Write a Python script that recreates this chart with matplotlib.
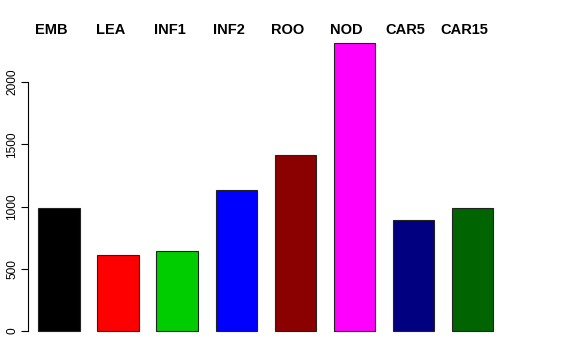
import matplotlib
matplotlib.use("Agg")
import matplotlib.pyplot as plt
import numpy as np

tissues = ["EMB", "LEA", "INF1", "INF2", "ROO", "NOD", "CAR5", "CAR15"]
counts = [988, 610, 643, 1133, 1414, 2313, 892, 988]
colors = ["#000000", "#FF0000", "#00CD00", "#0000FF", "#8B0000", "#FF00FF", "#000080", "#006400"]
yticks = [0, 500, 1000, 1500, 2000]

plt.rcParams['font.family'] = ['Liberation Sans', 'DejaVu Sans']

fig = plt.figure(figsize=(5.76, 3.6), dpi=100)
ax = fig.add_axes([28 / 576, 17.5 / 360, 475.5 / 576, 310.9 / 360])

x = np.arange(len(tissues))
ax.bar(x, counts, width=0.7, color=colors, edgecolor="#222222", linewidth=0.8)

ax.set_xlim(-0.525, 7.525)
ax.set_ylim(-92.5, 2405)

for xi, name in zip(x, tissues):
    ax.text(xi - 0.13, 2420, name, ha="center", va="center", fontsize=10.5,
            fontweight="bold", clip_on=False)

for side in ["top", "right", "bottom"]:
    ax.spines[side].set_visible(False)
ax.spines["left"].set_bounds(0, 2000)
ax.spines["left"].set_linewidth(0.8)
ax.set_xticks([])
ax.set_yticks(yticks)
ax.set_yticklabels([str(t) for t in yticks], rotation=90, va="center", fontsize=8.6)
ax.tick_params(axis="y", length=5, width=0.8, pad=2)

fig.savefig("out.png", dpi=100)
